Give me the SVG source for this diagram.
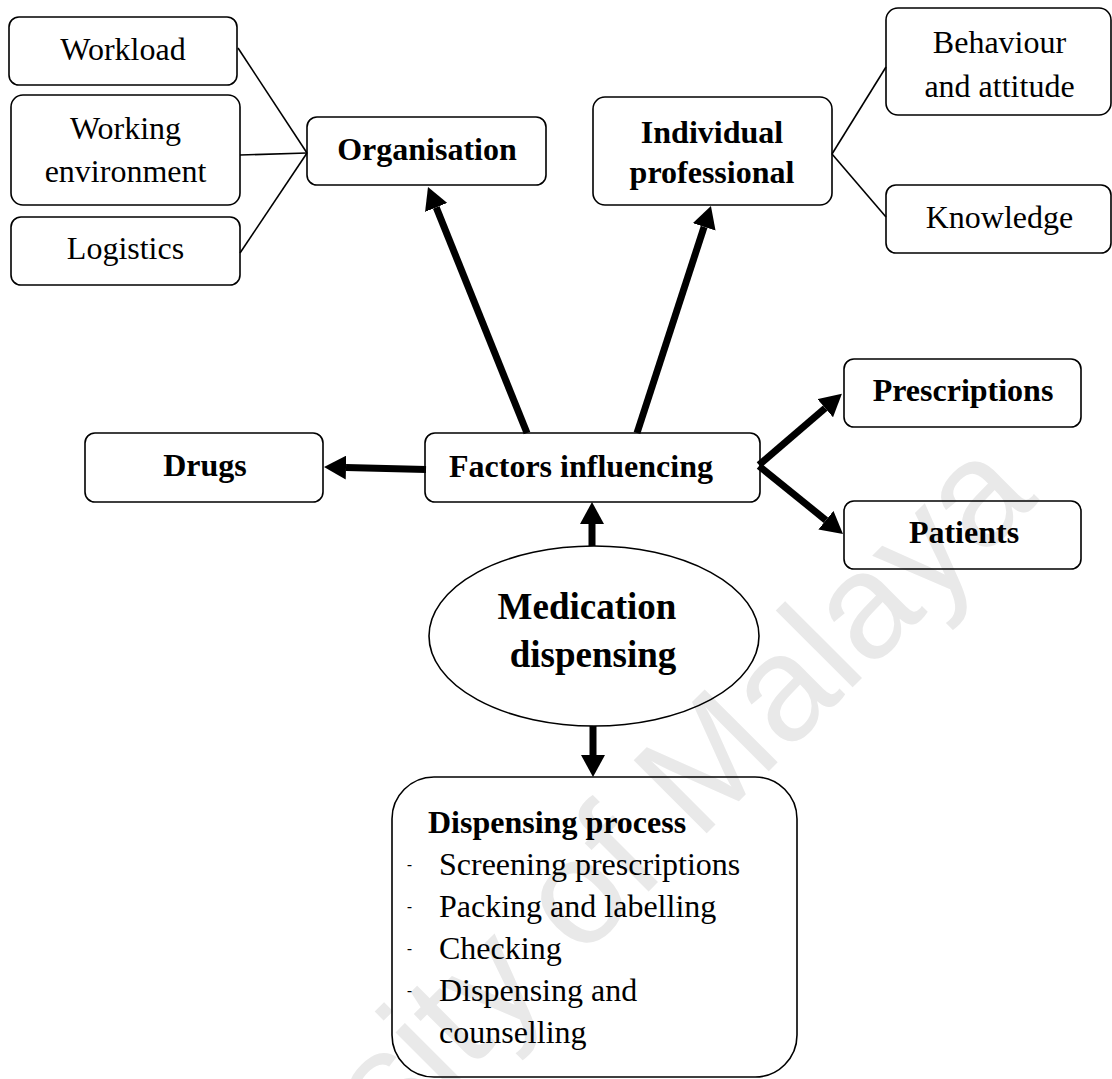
<svg xmlns="http://www.w3.org/2000/svg" width="1112" height="1079" viewBox="0 0 1112 1079">
  <style>
    .box { fill: none; stroke: #000; stroke-width: 1.6; }
    .txt { font-family: "Liberation Serif", "Times New Roman", serif; font-size: 32px; fill: #000; text-anchor: middle; }
    .bold { font-weight: bold; }
    .big { font-size: 37px; }
    .left { text-anchor: start; }
    .dash { font-family: "Liberation Serif", "Times New Roman", serif; font-size: 15px; font-weight: bold; fill: #000; }
    .thin { stroke: #000; stroke-width: 1.6; fill: none; }
    .thick { stroke: #000; stroke-width: 7; fill: none; marker-end: url(#head); }
    .mark { font-family: "Liberation Sans", Arial, sans-serif; font-size: 150px; fill: #e9e9e9; }
  </style>
  <defs>
    <marker id="head" viewBox="0 0 22 24" refX="0" refY="12" markerWidth="22" markerHeight="24" markerUnits="userSpaceOnUse" orient="auto">
      <path d="M0,0 L22,12 L0,24 Z" fill="#000"/>
    </marker>
  </defs>

  <rect width="1112" height="1079" fill="#fff"/>

  <!-- background watermark -->
  <text class="mark" transform="translate(1040,500) rotate(-45)" text-anchor="end">University of Malaya</text>

  <!-- connectors -->
  <g id="connectors">
    <line class="thin" x1="238" y1="48" x2="307" y2="153"/>
    <line class="thin" x1="240" y1="155" x2="307" y2="153"/>
    <line class="thin" x1="240" y1="253" x2="307" y2="153"/>
    <line class="thin" x1="832" y1="154" x2="886" y2="67"/>
    <line class="thin" x1="832" y1="154" x2="886" y2="217"/>
    <line class="thick" x1="527" y1="433" x2="436.2" y2="207.4"/>
    <line class="thick" x1="637" y1="433" x2="704.1" y2="226.9"/>
    <line class="thick" x1="426" y1="469.5" x2="346" y2="467.6"/>
    <line class="thick" x1="759" y1="465" x2="825.2" y2="408.2"/>
    <line class="thick" x1="759" y1="466" x2="825.9" y2="520.2"/>
    <line class="thick" x1="592" y1="546" x2="592" y2="524"/>
    <line class="thick" x1="593" y1="726" x2="593" y2="755"/>
  </g>

  <g id="workload">
    <rect class="box" x="9" y="17" width="228" height="68" rx="10"/>
    <text class="txt" x="123" y="60">Workload</text>
  </g>
  <g id="working-environment">
    <rect class="box" x="11" y="95" width="229" height="110" rx="12"/>
    <text class="txt" x="125.5" y="139">Working</text>
    <text class="txt" x="125.5" y="182">environment</text>
  </g>
  <g id="logistics">
    <rect class="box" x="11" y="217" width="229" height="68" rx="10"/>
    <text class="txt" x="125.5" y="259">Logistics</text>
  </g>
  <g id="organisation">
    <rect class="box" x="307" y="117" width="239" height="68" rx="10"/>
    <text class="txt bold" x="427" y="160">Organisation</text>
  </g>
  <g id="individual-professional">
    <rect class="box" x="593" y="97" width="239" height="108" rx="12"/>
    <text class="txt bold" x="712" y="143">Individual</text>
    <text class="txt bold" x="712" y="183">professional</text>
  </g>
  <g id="behaviour-attitude">
    <rect class="box" x="886" y="8" width="225" height="107" rx="12"/>
    <text class="txt" x="999.5" y="53">Behaviour</text>
    <text class="txt" x="999.5" y="97">and attitude</text>
  </g>
  <g id="knowledge">
    <rect class="box" x="886" y="185" width="225" height="68" rx="10"/>
    <text class="txt" x="999.5" y="228">Knowledge</text>
  </g>
  <g id="prescriptions">
    <rect class="box" x="844" y="359" width="237" height="68" rx="10"/>
    <text class="txt bold" x="963" y="401">Prescriptions</text>
  </g>
  <g id="drugs">
    <rect class="box" x="85" y="433" width="238" height="69" rx="10"/>
    <text class="txt bold" x="205" y="476">Drugs</text>
  </g>
  <g id="factors-influencing">
    <rect class="box" x="425" y="433" width="335" height="69" rx="10"/>
    <text class="txt bold" x="581" y="477">Factors influencing</text>
  </g>
  <g id="patients">
    <rect class="box" x="844" y="501" width="237" height="68" rx="10"/>
    <text class="txt bold" x="964" y="543">Patients</text>
  </g>
  <g id="medication-dispensing">
    <ellipse class="box" cx="594" cy="636" rx="165" ry="90"/>
    <text class="txt bold big" x="587" y="619">Medication</text>
    <text class="txt bold big" x="593" y="667">dispensing</text>
  </g>
  <g id="dispensing-process">
    <rect class="box" x="392" y="777" width="405" height="300" rx="42"/>
    <text class="txt bold left" x="428" y="833">Dispensing process</text>
    <text class="dash" x="407" y="869">-</text>
    <text class="txt left" x="439" y="875">Screening prescriptions</text>
    <text class="dash" x="407" y="911">-</text>
    <text class="txt left" x="439" y="917">Packing and labelling</text>
    <text class="dash" x="407" y="953">-</text>
    <text class="txt left" x="439" y="959">Checking</text>
    <text class="dash" x="407" y="995">-</text>
    <text class="txt left" x="439" y="1001">Dispensing and</text>
    <text class="txt left" x="439" y="1043">counselling</text>
  </g>
</svg>
